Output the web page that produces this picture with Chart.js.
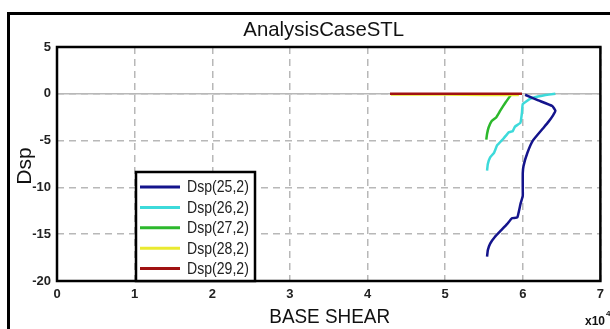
<!DOCTYPE html>
<html>
<head>
<meta charset="utf-8">
<script src="https://cdn.jsdelivr.net/npm/chart.js@4.4.1/dist/chart.umd.min.js"></script>
<style>
html,body{margin:0;padding:0;background:#fff;}
#wrap{width:610px;height:329px;position:relative;}
</style>
</head>
<body>
<div id="wrap"><canvas id="c" width="610" height="329"></canvas></div>
<script>
const titleText = "AnalysisCaseSTL";
const xLabel = "BASE SHEAR";
const yLabel = "Dsp";
const xTicks = [0,1,2,3,4,5,6,7];
const yTicks = [5,0,-5,-10,-15,-20];
const seriesNames = ["Dsp(25,2)","Dsp(26,2)","Dsp(27,2)","Dsp(28,2)","Dsp(29,2)"];
const seriesColors = ["#14148c","#3ddada","#2cb82c","#eaea30","#a01212"];

// x values in units of 1e4
const dsp25 = [[6.03,-0.1],[6.2,-0.7],[6.38,-1.3],[6.42,-1.8],[6.39,-2.3],[6.33,-3.0],[6.26,-3.7],[6.13,-5.0],[6.06,-6.3],[6.01,-7.7],[6.0,-8.5],[6.0,-10.0],[6.0,-10.9],[5.97,-11.8],[5.93,-13.2],[5.86,-13.3],[5.8,-13.9],[5.72,-14.6],[5.64,-15.3],[5.58,-16.0],[5.55,-16.7],[5.54,-17.4]];
const dsp26 = [[6.42,0.0],[6.25,-0.2],[6.1,-0.5],[6.0,-1.1],[5.99,-2.0],[5.97,-3.1],[5.9,-3.5],[5.87,-4.0],[5.82,-4.1],[5.75,-4.8],[5.67,-5.5],[5.63,-6.3],[5.58,-6.8],[5.55,-7.5],[5.54,-8.2]];
const dsp27 = [[5.85,-0.1],[5.78,-0.9],[5.71,-1.8],[5.66,-2.5],[5.6,-2.9],[5.56,-3.6],[5.54,-4.3],[5.53,-4.9]];
const dsp28 = [[4.3,-0.08],[5.0,-0.08],[5.5,-0.12],[5.95,-0.12]];
const dsp29 = [[4.29,0.0],[5.0,0.0],[5.5,0.0],[5.99,0.0]];
const seriesData = [dsp25,dsp26,dsp27,dsp28,dsp29];

const FONT = "'Liberation Sans',Arial,sans-serif";

const datasets = seriesData.map((d,i)=>({
  label: seriesNames[i],
  data: d.map(p=>({x:p[0],y:p[1]})),
  borderColor: seriesColors[i],
  backgroundColor: seriesColors[i],
  showLine: true,
  pointRadius: 0,
  borderWidth: 2.5,
  tension: 0.1
}));
datasets[0].order = 0; datasets[1].order = 3; datasets[2].order = 4;
datasets[3].order = 2; datasets[4].order = 1;

const decor = {
  id: 'decor',
  beforeDatasetsDraw(chart){
    const {ctx, chartArea:a, scales:{x,y}} = chart;
    ctx.save();
    const y0 = y.getPixelForValue(0);
    ctx.strokeStyle = '#b8b8b8';
    ctx.lineWidth = 1.5;
    ctx.beginPath(); ctx.moveTo(a.left,y0); ctx.lineTo(a.right,y0); ctx.stroke();
    ctx.restore();
  },
  afterDraw(chart){
    const {ctx, chartArea:a} = chart;
    ctx.save();
    ctx.strokeStyle = '#000';
    ctx.lineWidth = 3;
    ctx.strokeRect(8.5, 13.5, 640, 360);
    ctx.lineWidth = 2.5;
    ctx.strokeRect(a.left, a.top, a.right - a.left, a.bottom - a.top);
    ctx.fillStyle = '#111';
    ctx.textAlign = 'center';
    ctx.textBaseline = 'middle';
    // condensed look via horizontal scaling
    const narrowText = (t, cx, cy, size, sx) => {
      ctx.save();
      ctx.translate(cx, cy);
      ctx.scale(sx, 1);
      ctx.font = size + "px " + FONT;
      ctx.fillText(t, 0, 0);
      ctx.restore();
    };
    narrowText(titleText, (a.left + a.right)/2 - 5, 30, 21, 0.97);
    narrowText(xLabel, (a.left + a.right)/2 + 1, 317, 21, 0.9);
    ctx.save();
    ctx.translate(25, (a.top + a.bottom)/2 + 2);
    ctx.rotate(-Math.PI/2);
    ctx.font = "21px " + FONT;
    ctx.fillText(yLabel, 0, 0);
    ctx.restore();
    ctx.textAlign = 'left';
    ctx.font = "bold 12px " + FONT;
    ctx.fillText("x10", 585, 322);
    ctx.font = "bold 8px " + FONT;
    ctx.fillText("4", 606, 314);
    // legend
    const lx = 136, ly = 172, lw = 119, lh = a.bottom - 172;
    ctx.fillStyle = '#fff';
    ctx.fillRect(lx, ly, lw, lh);
    ctx.lineWidth = 2.5;
    ctx.strokeStyle = '#000';
    ctx.strokeRect(lx, ly, lw, lh);
    chart.data.datasets.forEach((ds,i)=>{
      const ry = 187 + i*20.4;
      ctx.strokeStyle = ds.borderColor;
      ctx.lineWidth = 3;
      ctx.beginPath(); ctx.moveTo(140, ry); ctx.lineTo(180, ry); ctx.stroke();
      ctx.fillStyle = '#222';
      ctx.save();
      ctx.translate(187, ry + 1);
      ctx.scale(0.88, 1);
      ctx.font = "16px " + FONT;
      ctx.fillText(ds.label, 0, 0);
      ctx.restore();
    });
    ctx.restore();
  }
};

new Chart(document.getElementById('c'), {
  type: 'scatter',
  data: { datasets },
  options: {
    responsive: false,
    animation: false,
    devicePixelRatio: 1,
    layout: { padding: { left: 0, top: 47, right: 8, bottom: 0 } },
    plugins: { legend: { display: false }, title: { display: false }, tooltip: { enabled: false } },
    scales: {
      x: {
        type: 'linear', min: 0, max: 7,
        afterBuildTicks(s){ s.ticks = xTicks.map(v=>({value:v})); },
        afterFit(s){ s.height = 48; },
        ticks: { color: '#222', font: { family: FONT, size: 13, weight: 'bold' }, padding: 6, maxRotation: 0 },
        grid: { color: '#b8b8b8', lineWidth: 1.5, drawTicks: false },
        border: { display: false, dash: [7,5] }
      },
      y: {
        type: 'linear', min: -20, max: 5,
        afterBuildTicks(s){ s.ticks = yTicks.map(v=>({value:v})); },
        afterFit(s){ s.width = 57; },
        ticks: { color: '#222', font: { family: FONT, size: 13, weight: 'bold' }, padding: 6 },
        grid: { color: '#b8b8b8', lineWidth: 1.5, drawTicks: false },
        border: { display: false, dash: [7,5] }
      }
    }
  },
  plugins: [decor]
});
</script>
</body>
</html>
